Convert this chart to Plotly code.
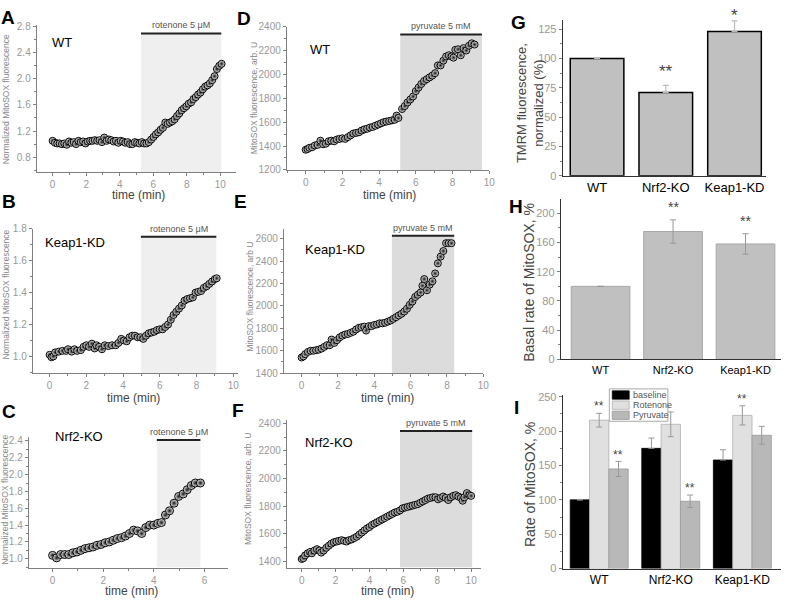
import plotly.graph_objects as go

W, H = 789, 604
FONT = "Arial, Liberation Sans, sans-serif"

# ---- data ----
# A: WT, rotenone
TIME_A = [0.00, 0.14, 0.28, 0.42, 0.56, 0.70, 0.84, 0.98, 1.12, 1.26, 1.40, 1.54, 1.68, 1.82, 1.96,
          2.10, 2.24, 2.38, 2.52, 2.66, 2.80, 2.94, 3.08, 3.22, 3.36, 3.50, 3.64, 3.78, 3.92, 4.06,
          4.20, 4.34, 4.48, 4.62, 4.76, 4.90, 5.04, 5.18, 5.32, 5.46, 5.60, 5.74, 5.88, 6.02, 6.16,
          6.30, 6.44, 6.58, 6.72, 6.86, 7.00, 7.14, 7.28, 7.42, 7.56, 7.70, 7.84, 7.98, 8.12, 8.26,
          8.40, 8.54, 8.68, 8.82, 8.96, 9.10, 9.24, 9.38, 9.52, 9.66, 9.80, 9.94, 10.08]
MITO_A = [1.05, 1.02, 1.01, 1.01, 1.00, 1.01, 0.99, 1.04, 1.02, 1.03, 1.00, 1.05, 1.03, 1.04, 1.01,
          1.04, 1.05, 1.05, 1.06, 1.05, 1.06, 1.03, 1.10, 1.05, 1.07, 1.06, 1.04, 1.05, 1.02, 1.05,
          1.04, 1.02, 1.03, 1.00, 1.00, 1.03, 1.02, 1.01, 1.03, 1.01, 1.01, 1.03, 1.07, 1.11, 1.15,
          1.18, 1.22, 1.25, 1.33, 1.31, 1.33, 1.35, 1.38, 1.43, 1.47, 1.52, 1.55, 1.58, 1.62, 1.64,
          1.69, 1.72, 1.76, 1.79, 1.84, 1.88, 1.90, 1.93, 1.98, 2.04, 2.15, 2.20, 2.23]

# B: Keap1-KD, rotenone
TIME_B = [0.00, 0.10, 0.20, 0.30, 0.50, 0.70, 0.90, 1.00, 1.20, 1.35, 1.50, 1.70, 1.85, 2.00, 2.15,
          2.30, 2.45, 2.55, 2.70, 2.85, 3.00, 3.20, 3.40, 3.60, 3.75, 3.90, 4.05, 4.20, 4.35, 4.50,
          4.65, 4.80, 4.95, 5.10, 5.25, 5.40, 5.55, 5.70, 5.85, 6.00, 6.15, 6.30, 6.45, 6.60, 6.75,
          6.90, 7.05, 7.20, 7.35, 7.50, 7.65, 7.80, 7.95, 8.10, 8.25, 8.40, 8.55, 8.70, 8.85, 9.00,
          9.10]
MITO_B = [1.010, 0.995, 1.000, 1.025, 1.030, 1.035, 1.035, 1.045, 1.030, 1.045, 1.035, 1.040, 1.060, 1.070, 1.060,
          1.080, 1.050, 1.070, 1.060, 1.045, 1.070, 1.065, 1.070, 1.070, 1.085, 1.110, 1.100, 1.095, 1.120, 1.130,
          1.130, 1.120, 1.120, 1.110, 1.130, 1.145, 1.150, 1.155, 1.165, 1.170, 1.170, 1.185, 1.200, 1.230, 1.260,
          1.280, 1.300, 1.320, 1.350, 1.360, 1.365, 1.370, 1.400, 1.405, 1.410, 1.430, 1.440, 1.455, 1.470, 1.485,
          1.490]

# C: Nrf2-KO, rotenone
TIME_C = [0.00, 0.16, 0.32, 0.48, 0.64, 0.80, 0.96, 1.12, 1.28, 1.44, 1.60, 1.76, 1.92, 2.08, 2.24,
          2.40, 2.56, 2.72, 2.88, 3.04, 3.20, 3.36, 3.52, 3.68, 3.84, 4.00, 4.16, 4.30, 4.46, 4.62,
          4.80, 4.98, 5.16, 5.32, 5.48, 5.64, 5.84]
MITO_C = [1.04, 1.01, 1.05, 1.05, 1.05, 1.07, 1.08, 1.10, 1.12, 1.13, 1.14, 1.16, 1.17, 1.19, 1.20,
          1.22, 1.24, 1.25, 1.27, 1.30, 1.34, 1.33, 1.30, 1.37, 1.40, 1.40, 1.42, 1.43, 1.52, 1.57,
          1.66, 1.74, 1.77, 1.82, 1.87, 1.90, 1.90]

# D: WT, pyruvate
TIME_D = [0.00, 0.10, 0.20, 0.35, 0.50, 0.65, 0.80, 0.95, 1.10, 1.25, 1.40, 1.55, 1.70, 1.85, 2.00,
          2.15, 2.30, 2.45, 2.60, 2.75, 2.90, 3.05, 3.20, 3.35, 3.50, 3.65, 3.80, 3.95, 4.10, 4.25,
          4.40, 4.55, 4.70, 4.85, 4.95, 5.05, 5.25, 5.40, 5.55, 5.70, 5.85, 6.00, 6.15, 6.30, 6.45,
          6.60, 6.75, 6.90, 7.05, 7.20, 7.35, 7.50, 7.65, 7.80, 7.95, 8.05, 8.15, 8.30, 8.45, 8.60,
          8.75, 8.90, 9.05, 9.20]
MITO_D = [1369, 1375, 1385, 1390, 1405, 1410, 1445, 1415, 1420, 1440, 1445, 1440, 1455, 1460, 1465,
          1460, 1475, 1490, 1505, 1510, 1515, 1530, 1540, 1545, 1555, 1560, 1570, 1580, 1590, 1600,
          1605, 1610, 1615, 1620, 1655, 1635, 1710, 1735, 1765, 1790, 1815, 1860, 1890, 1920, 1945,
          1960, 1975, 1990, 2010, 2075, 2075, 2115, 2150, 2160, 2150, 2140, 2205, 2210, 2160, 2220,
          2200, 2240, 2260, 2250]

# E: Keap1-KD, pyruvate
TIME_E = [0.00, 0.10, 0.20, 0.35, 0.50, 0.65, 0.80, 0.95, 1.10, 1.25, 1.40, 1.55, 1.65, 1.80, 1.95,
          2.10, 2.25, 2.40, 2.55, 2.70, 2.85, 3.00, 3.15, 3.30, 3.45, 3.55, 3.70, 3.85, 4.00, 4.15,
          4.30, 4.45, 4.60, 4.75, 4.90, 5.05, 5.20, 5.35, 5.50, 5.65, 5.80, 5.95, 6.10, 6.25, 6.40,
          6.55, 6.65, 6.75, 6.90, 7.05, 7.20, 7.35, 7.50, 7.65, 7.80, 7.95, 8.10, 8.25]
MITO_E = [1540, 1550, 1570, 1590, 1600, 1600, 1605, 1610, 1620, 1635, 1650, 1650, 1700, 1670, 1695,
          1720, 1735, 1745, 1750, 1760, 1770, 1790, 1805, 1810, 1815, 1780, 1820, 1820, 1830, 1835,
          1845, 1845, 1850, 1860, 1870, 1885, 1900, 1915, 1930, 1950, 1975, 2010, 2040, 2080, 2100,
          2120, 2180, 2240, 2140, 2190, 2220, 2290, 2380, 2440, 2490, 2560, 2560, 2560]

# F: Nrf2-KO, pyruvate
TIME_F = [0.00, 0.10, 0.20, 0.35, 0.50, 0.60, 0.75, 0.90, 1.05, 1.15, 1.30, 1.45, 1.60, 1.75, 1.90,
          2.05, 2.20, 2.35, 2.50, 2.65, 2.80, 2.95, 3.10, 3.25, 3.40, 3.55, 3.70, 3.85, 4.00, 4.15,
          4.30, 4.45, 4.60, 4.75, 4.90, 5.05, 5.20, 5.35, 5.50, 5.65, 5.80, 5.95, 6.10, 6.25, 6.40,
          6.55, 6.70, 6.85, 7.00, 7.15, 7.30, 7.45, 7.60, 7.75, 7.90, 8.05, 8.20, 8.35, 8.50, 8.65,
          8.80, 8.95, 9.10, 9.25, 9.40, 9.50, 9.60, 9.75, 9.90, 10.00]
MITO_F = [1419, 1425, 1445, 1460, 1470, 1460, 1480, 1490, 1480, 1465, 1480, 1500, 1515, 1530, 1540,
          1545, 1550, 1555, 1550, 1545, 1555, 1560, 1570, 1580, 1595, 1610, 1625, 1640, 1650, 1665,
          1675, 1685, 1695, 1705, 1715, 1725, 1735, 1745, 1755, 1760, 1770, 1785, 1790, 1795, 1800,
          1805, 1810, 1815, 1825, 1835, 1845, 1855, 1860, 1865, 1865, 1850, 1860, 1870, 1860, 1845,
          1865, 1875, 1880, 1870, 1860, 1840, 1865, 1895, 1880, 1875]

# treatment periods (start, end, level of the bar)
ROT_A = [5.27, 10.06, 2.695]
ROT_B = [4.97, 9.08, 1.75]
ROT_C = [4.12, 5.84, 2.41]
PYR_D = [5.15, 9.60, 2334]
PYR_E = [4.97, 8.40, 2626]
PYR_F = [5.80, 10.06, 2343]

GENOTYPES = ["WT", "Nrf2-KO", "Keap1-KD"]
TMRM = [100, 71, 123]
TMRM_ERR = [None, 6, 9]
TMRM_STARS = ["", "**", "*"]

BASAL = [100, 175, 158]
BASAL_ERR = [None, 16, 14]
BASAL_STARS = ["", "**", "**"]

CONDITIONS = ["baseline", "Rotenone", "Pyruvate"]
RATE_BASELINE = [100, 175, 158]
RATE_BASELINE_ERR = [None, 15, 15]
RATE_ROTENONE = [216, 210, 223]
RATE_ROTENONE_ERR = [10, 18, 14]
RATE_PYRUVATE = [145, 98, 194]
RATE_PYRUVATE_ERR = [11, 9, 13]
ROT_STARS = ["**", "", "**"]
PYR_STARS = ["**", "**", ""]
COND_COLORS = ["black", "#e0e0e0", "#b8b8b8"]
COND_EDGES = ["black", "#b0b0b0", "#999999"]


def dom_x(a, b):
    return [a / W, b / W]


def dom_y(top, bot):
    return [1 - bot / H, 1 - top / H]


fig = go.Figure()
annotations = []
shapes = []
layout = {}


def axis_names(n):
    s = "" if n == 1 else str(n)
    return "x" + s, "y" + s, "xaxis" + s, "yaxis" + s


def base_axis(domain, rng, anchor, dtick, minor, fmt, tick0=None, fsize=10):
    ax = dict(
        domain=domain, range=rng, anchor=anchor,
        showline=True, linecolor="#808080", linewidth=1,
        ticks="outside", ticklen=3, tickcolor="#808080",
        showgrid=False, zeroline=False,
        tickfont=dict(family=FONT, size=fsize, color="#999999"),
        dtick=dtick, tickformat=fmt,
    )
    if tick0 is not None:
        ax["tick0"] = tick0
    if minor:
        ax["minor"] = dict(dtick=minor, ticks="outside", ticklen=2, tickcolor="#808080")
    return ax


def paper_text(text, x, y, size, color, angle=0, anchor="center", bold=False):
    if bold:
        text = "<b>" + text + "</b>"
    annotations.append(dict(text=text, xref="paper", yref="paper", x=x / W, y=1 - y / H,
                            xanchor=anchor, yanchor="middle", textangle=angle, showarrow=False,
                            font=dict(family=FONT, size=size, color=color)))


def time_panel(n, t, v, box, xr, yr, ydtick, yminor, yfmt, ytick0, period, shade, drug, group, group_px,
               ytitle, ytitle_px, xtitle_px, xdtick=2, msize=7):
    xa, ya, xkey, ykey = axis_names(n)
    x0, x1, top, bot = box
    layout[xkey] = base_axis(dom_x(x0, x1), xr, ya, xdtick, 1, "d")
    layout[ykey] = base_axis(dom_y(top, bot), yr, xa, ydtick, yminor, yfmt, ytick0)
    fig.add_trace(go.Scatter(
        x=t, y=v, mode="markers", xaxis=xa, yaxis=ya, showlegend=False,
        marker=dict(size=msize, color="#f2f2f2",
                    gradient=dict(type="radial", color="#151515"),
                    line=dict(color="black", width=1)),
    ))
    p0, p1, lvl = period
    shapes.append(dict(type="rect", xref=xa, yref=ya, x0=p0, x1=p1, y0=yr[0], y1=lvl,
                       fillcolor=shade, line=dict(width=0), layer="below"))
    shapes.append(dict(type="line", xref=xa, yref=ya, x0=p0, x1=p1, y0=lvl, y1=lvl,
                       line=dict(color="#222222", width=2)))
    annotations.append(dict(text=drug, xref=xa, yref=ya, x=(p0 + p1) / 2, y=lvl,
                            yanchor="bottom", yshift=1, showarrow=False,
                            font=dict(family=FONT, size=9, color="#555555")))
    paper_text(group, group_px[0], group_px[1], 13, "black", anchor="left")
    paper_text(ytitle, ytitle_px[0], ytitle_px[1], 8.5, "#888888", angle=-90)
    paper_text("time (min)", xtitle_px[0], xtitle_px[1], 12, "#444444")


ROT_LABEL = "rotenone 5 μM"
PYR_LABEL = "pyruvate 5 mM"
NORM_TITLE = "Normalized MitoSOX fluorescence"

time_panel(1, TIME_A, MITO_A, (37, 238, 20, 170), [-0.95, 10.95], [0.574, 2.83], 0.4, 0.2, ".1f", 0.8,
           ROT_A, "#efefef", ROT_LABEL, "WT", (50, 38), NORM_TITLE, (6, 96), (140, 194))
time_panel(2, TIME_B, MITO_B, (33, 240, 228, 375), [-0.92, 10.27], [0.895, 1.8], 0.2, 0.1, ".1f", 1.0,
           ROT_B, "#efefef", ROT_LABEL, "Keap1-KD", (43, 242), NORM_TITLE, (6, 295), (135, 400))
time_panel(3, TIME_C, MITO_C, (29, 230, 440, 573), [-0.94, 6.94], [0.895, 2.447], 0.2, 0.1, ".1f", 1.0,
           ROT_C, "#efefef", ROT_LABEL, "Nrf2-KO", (53, 440), NORM_TITLE, (5, 504), (133, 597), msize=8)
time_panel(4, TIME_D, MITO_D, (289, 493, 22, 168), [-1.03, 10.0], [1200, 2400], 200, 100, "d", 1200,
           PYR_D, "#dcdcdc", PYR_LABEL, "WT", (310, 45), "MitoSOX fluorescence, arb. U", (256, 95), (392, 194))
time_panel(5, TIME_E, MITO_E, (286, 487, 228, 375), [-0.98, 10.0], [1400, 2688], 200, 100, "d", 1400,
           PYR_E, "#dcdcdc", PYR_LABEL, "Keap1-KD", (305, 249), "MitoSOX fluorescence, arb U", (251, 297), (390, 400))
time_panel(6, TIME_F, MITO_F, (289, 485, 423, 573), [-0.88, 10.6], [1357, 2421], 200, 100, "d", 1400,
           PYR_F, "#dcdcdc", PYR_LABEL, "Nrf2-KO", (305, 446), "MitoSOX fluorescence, arb. U", (250, 493), (390, 597))


def bar_axes(n, box, xr, yr, dtick, minor, cat_size, ytitle, ytitle_px, tsize):
    xa, ya, xkey, ykey = axis_names(n)
    x0, x1, top, bot = box
    xax = base_axis(dom_x(x0, x1), xr, ya, None, None, None)
    xax.update(type="category", ticks="", tickfont=dict(family=FONT, size=cat_size, color="black"))
    xax.pop("dtick")
    xax.pop("tickformat")
    xax["linecolor"] = "#333333"
    layout[xkey] = xax
    yax = base_axis(dom_y(top, bot), yr, xa, dtick, minor, "d", 0, fsize=11)
    yax["linecolor"] = "#333333"
    layout[ykey] = yax
    paper_text(ytitle, ytitle_px[0], ytitle_px[1], tsize, "#444444", angle=-90)
    return xa, ya


def stars(box, xr, yr, vals, errs, marks, gaps, size, offset=0.0):
    # significance marks, placed in paper space so they may sit above the axis range
    x0, x1, top, bot = box
    for i, (v, e, m, g) in enumerate(zip(vals, errs, marks, gaps)):
        if m:
            xp = x0 + (i - xr[0]) / (xr[1] - xr[0]) * (x1 - x0) + offset
            yp = bot - (v + (e or 0) + g - yr[0]) / (yr[1] - yr[0]) * (bot - top)
            paper_text(m, xp, yp, size, "#444444")


# G: TMRM
BOX_G, XR_G, YR_G = (567, 772, 15, 174), [-0.5, 2.46], [0, 133]
xa, ya = bar_axes(7, BOX_G, XR_G, YR_G, 25, 12.5, 13,
                  "TMRM fluorescence,<br>normalized (%)", (534, 100), 13)
fig.add_trace(go.Bar(x=GENOTYPES, y=TMRM, xaxis=xa, yaxis=ya, showlegend=False, width=0.78,
                     marker=dict(color="#c0c0c0", line=dict(color="black", width=1.5)),
                     error_y=dict(type="data", symmetric=False, array=TMRM_ERR, arrayminus=[0, 0, 0],
                                  color="#bbbbbb", thickness=1.2, width=3)))
stars(BOX_G, XR_G, YR_G, TMRM, TMRM_ERR, TMRM_STARS, [0, 12, 5], 17)

# H: basal rate
BOX_H, XR_H, YR_H = (565, 787, 198, 361), [-0.55, 2.49], [0, 219]
xa, ya = bar_axes(8, BOX_H, XR_H, YR_H, 40, 20, 11,
                  "Basal rate of MitoSOX, %", (533, 282), 14)
fig.add_trace(go.Bar(x=GENOTYPES, y=BASAL, xaxis=xa, yaxis=ya, showlegend=False, width=0.81,
                     marker=dict(color="#c0c0c0", line=dict(color="#a8a8a8", width=1)),
                     error_y=dict(type="data", array=BASAL_ERR, color="#999999", thickness=1, width=3)))
stars(BOX_H, XR_H, YR_H, BASAL, BASAL_ERR, BASAL_STARS, [18, 18, 18], 14)

# I: rates by condition
BOX_I, XR_I, YR_I = (567, 787, 397, 574), [-0.51, 2.54], [0, 253]
xa, ya = bar_axes(9, BOX_I, XR_I, YR_I, 50, 25, 12,
                  "Rate of MitoSOX, %", (534, 488), 14)
for name, vals, errs, col, edge, minus in [
    (CONDITIONS[0], RATE_BASELINE, RATE_BASELINE_ERR, COND_COLORS[0], COND_EDGES[0], [0, 0, 0]),
    (CONDITIONS[1], RATE_ROTENONE, RATE_ROTENONE_ERR, COND_COLORS[1], COND_EDGES[1], RATE_ROTENONE_ERR),
    (CONDITIONS[2], RATE_PYRUVATE, RATE_PYRUVATE_ERR, COND_COLORS[2], COND_EDGES[2], RATE_PYRUVATE_ERR),
]:
    fig.add_trace(go.Bar(name=name, x=GENOTYPES, y=vals, xaxis=xa, yaxis=ya, showlegend=False,
                         marker=dict(color=col, line=dict(color=edge, width=0.8)),
                         error_y=dict(type="data", symmetric=False, array=errs, arrayminus=minus,
                                      color="#999999", thickness=1, width=3)))
# stars sit over the rotenone / pyruvate bar of each group
stars(BOX_I, XR_I, YR_I, RATE_ROTENONE, RATE_ROTENONE_ERR, ROT_STARS, [10, 10, 10], 12)
stars(BOX_I, XR_I, YR_I, RATE_PYRUVATE, RATE_PYRUVATE_ERR, PYR_STARS, [10, 10, 10], 12, offset=19)

# compact legend box for panel I
LEG_X, LEG_Y = 614, 391
shapes.append(dict(type="rect", xref="paper", yref="paper",
                   x0=LEG_X / W, x1=(LEG_X + 59) / W, y0=1 - (LEG_Y + 33) / H, y1=1 - LEG_Y / H,
                   fillcolor="white", line=dict(color="#aaaaaa", width=1)))
for i, (name, col, edge) in enumerate(zip(CONDITIONS, COND_COLORS, COND_EDGES)):
    ry = LEG_Y + 2 + i * 10.3
    shapes.append(dict(type="rect", xref="paper", yref="paper",
                       x0=(LEG_X + 3) / W, x1=(LEG_X + 20) / W, y0=1 - (ry + 8.5) / H, y1=1 - ry / H,
                       fillcolor=col, line=dict(color=edge, width=0.8)))
    paper_text(name, LEG_X + 22, ry + 4.5, 9, "#555555", anchor="left")

# panel letters
for letter, lx, ly in [("A", 8, 13), ("B", 9, 200), ("C", 9, 414), ("D", 246, 14), ("E", 242, 200),
                       ("F", 240, 413), ("G", 522, 18), ("H", 520, 205), ("I", 520, 410)]:
    paper_text(letter, lx, ly, 19, "black", bold=True)

fig.update_layout(
    width=W, height=H, margin=dict(l=0, r=0, t=0, b=0),
    paper_bgcolor="white", plot_bgcolor="white",
    barmode="group", bargap=0.19, bargroupgap=0,
    showlegend=False,
    annotations=annotations, shapes=shapes,
    **layout,
)

fig.write_html("out.html", config={"displayModeBar": False},
               post_script="document.body.style.margin='0';")
